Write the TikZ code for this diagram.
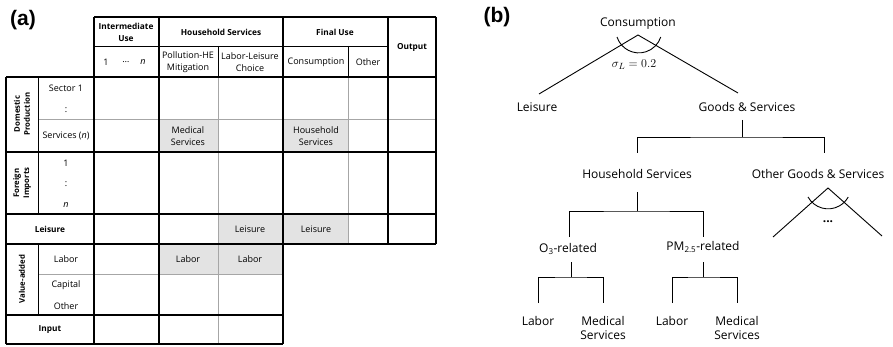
\documentclass[tikz,border=0pt]{standalone}
\usepackage[no-math]{fontspec}
\setmainfont{Open Sans}
\newfontfamily\labfont{Liberation Sans}
\begin{document}
\begin{tikzpicture}[x=1pt,y=-1pt,
  thickln/.style={line width=2.2pt},
  thinln/.style={line width=0.8pt},
  grayln/.style={line width=0.8pt, draw=black!35},
  shadecell/.style={fill=black!11},
  tbl/.style={font=\fontsize{9}{12.5}\selectfont, align=center, inner sep=0pt},
  hdr/.style={font=\fontsize{8.3}{12}\selectfont\bfseries, align=center, inner sep=0pt},
  vhdr/.style={font=\fontsize{7.8}{10}\selectfont\bfseries, align=center, inner sep=0pt, rotate=90},
  tree/.style={font=\fontsize{12}{14}\selectfont, align=center, inner sep=0pt},
  panel/.style={font=\labfont\fontsize{21}{24}\selectfont\bfseries, inner sep=0pt},
  edge/.style={line width=0.9pt}
]
\useasboundingbox (0,0) rectangle (893,347);

% ---------------- panel (a): table ----------------
% shaded cells
\fill[shadecell] (159,119) rectangle (218,152);
\fill[shadecell] (283,119) rectangle (348,152);
\fill[shadecell] (218,214) rectangle (348,244);
\fill[shadecell] (159,244) rectangle (283,274);

% gray inner lines
\draw[grayln] (218,77) -- (218,344);
\draw[grayln] (348,77) -- (348,244);
\draw[grayln] (38,119) -- (436,119);
\draw[grayln] (38,274) -- (283,274);

% thin black lines
\draw[thinln] (94,46) -- (388,46);
\draw[thinln] (218,46) -- (218,77);
\draw[thinln] (348,46) -- (348,77);
\draw[thinln] (38,77) -- (38,214);
\draw[thinln] (38,244) -- (38,315);

% thick lines
\draw[thickln] (94,17) -- (436,17);
\draw[thickln] (6,77) -- (436,77);
\draw[thickln] (6,152) -- (436,152);
\draw[thickln] (6,214) -- (436,214);
\draw[thickln] (6,244) -- (436,244);
\draw[thickln] (6,315) -- (283,315);
\draw[thickln] (6,344) -- (283,344);
\draw[thickln] (6,77) -- (6,344);
\draw[thickln] (94,17) -- (94,344);
\draw[thickln] (159,17) -- (159,344);
\draw[thickln] (283,17) -- (283,344);
\draw[thickln] (388,17) -- (388,244);
\draw[thickln] (436,17) -- (436,244);

% header texts
\node[hdr] (hIU) at (126,32) {Intermediate\\Use};
\node[hdr] (hHS) at (221,32) {Household Services};
\node[hdr] (hFU) at (335,32) {Final Use};
\node[hdr] (hOut) at (412,47) {Output};
\node[tbl] (h1) at (106,62) {1};
\node[tbl] (hdots) at (126,62) {\dots};
\node[tbl] (hn) at (143,62) {\textit{n}};
\node[tbl] (hPol) at (188,62) {Pollution-HE\\Mitigation};
\node[tbl] (hLL) at (250,62) {Labor-Leisure\\Choice};
\node[tbl] (hCons) at (316,62) {Consumption};
\node[tbl] (hOth) at (368,62) {Other};

% row labels
\node[vhdr] (rDP) at (22,114) {Domestic\\Production};
\node[vhdr] (rFI) at (22,183) {Foreign\\Imports};
\node[vhdr] (rVA) at (22,279) {Value-added};
\node[tbl] (rS1) at (66,88) {Sector 1};
\node[tbl] (rC1) at (66,110) {:};
\node[tbl] (rSv) at (66,136) {Services (\textit{n})};
\node[tbl] (rF1) at (66,163) {1};
\node[tbl] (rC2) at (66,184) {:};
\node[tbl] (rFn) at (66,205) {\textit{n}};
\node[hdr] (rLei) at (50,229) {Leisure};
\node[tbl] (rLab) at (66,259) {Labor};
\node[tbl] (rCap) at (66,285) {Capital};
\node[tbl] (rOth) at (66,306) {Other};
\node[hdr] (rIn) at (50,330) {Input};

% cell texts
\node[tbl] (cMS) at (188,136) {Medical\\Services};
\node[tbl] (cHS) at (316,136) {Household\\Services};
\node[tbl] (cL1) at (250,229) {Leisure};
\node[tbl] (cL2) at (316,229) {Leisure};
\node[tbl] (cLb1) at (188,259) {Labor};
\node[tbl] (cLb2) at (250,259) {Labor};

\node[panel] (pa) at (23,20) {(a)};
\node[panel] (pb) at (497,17) {(b)};

% ---------------- panel (b): tree ----------------
\node[tree] (cons) at (638,24) {Consumption};
\coordinate (apex) at (638,35);
\node[tree, font=\fontsize{13}{14}\selectfont] (sig) at (634,65) {$\sigma_L = 0.2$};
\node[tree] (lei) at (537,107) {Leisure};
\node[tree] (gs) at (747,107) {Goods \& Services};
\coordinate (leiT) at (539,94);
\coordinate (gsT) at (738,93);
\draw[edge] (leiT) -- (apex) -- (gsT);
\draw[edge] (617,37) arc[start angle=198, end angle=342, radius=23pt];

\node[tree] (hs) at (637,174) {Household Services};
\node[tree] (og) at (818,174) {Other Goods \& Services};
\draw[edge] ([yshift=-13pt]gs.center) ++(-5,0) -- ++(0,17) coordinate (gsj);
\draw[edge] ([yshift=21pt]hs.center) |- (gsj) -| ([xshift=6pt,yshift=21pt]og.center);

% other goods cone
\coordinate (apex2) at (828,188);
\coordinate (og1) at (773,237);
\coordinate (og2) at (882,236);
\draw[edge] (og1) -- (apex2) -- (og2);
\draw[edge] (808,197) arc[start angle=209, end angle=331, radius=23pt];
\node[tree] (ogd) at (828,222) {\textbf{...}};

\node[tree] (o3) at (568,249) {O\textsubscript{3}-related};
\node[tree] (pm) at (703,247) {PM\textsubscript{2.5}-related};
\draw[edge] ([yshift=-18pt]hs.center) -- ++(0,19) coordinate (hsj);
\draw[edge] ([xshift=1pt,yshift=12pt]o3.center) |- (hsj) -| ([yshift=10pt]pm.center);

\node[tree] (lab1) at (538,321) {Labor};
\node[tree] (med1) at (603,328) {Medical\\Services};
\node[tree] (lab2) at (672,321) {Labor};
\node[tree] (med2) at (737,328) {Medical\\Services};

\draw[edge] ([xshift=3pt,yshift=-13pt]o3.center) -- ++(0,15) coordinate (o3j);
\draw[edge] ([yshift=18pt]lab1.center) |- (o3j) -| ([yshift=25pt]med1.center);
\draw[edge] ([yshift=-15pt]pm.center) -- ++(0,15) coordinate (pmj);
\draw[edge] ([yshift=18pt]lab2.center) |- (pmj) -| ([yshift=25pt]med2.center);
\end{tikzpicture}
\end{document}
